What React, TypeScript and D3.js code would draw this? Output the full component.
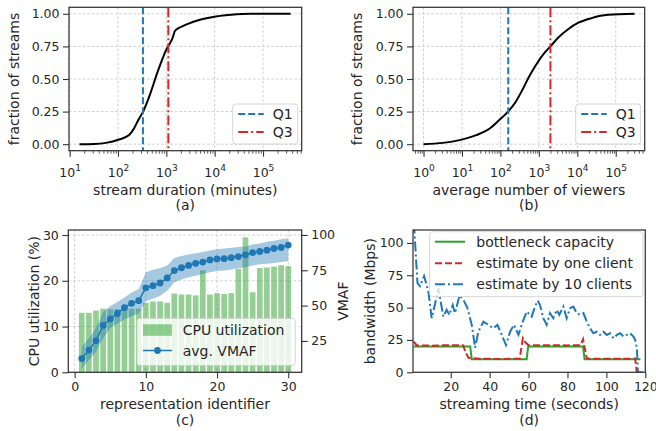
import React, { useEffect, useRef } from 'react';
import * as d3 from 'd3';

const FONT = '"DejaVu Sans", Verdana, sans-serif';
const INK = '#262626';
const SPINE = '#333333';
const GRID = '#c4c4c4';
const BLUE = '#1f77b4';
const RED = '#d62728';
const GREEN = '#2ca02c';

// ---------- (a) stream duration CDF ----------
const durationMinutes = [16, 32, 56, 105, 170, 214, 263, 331, 468, 646, 794, 955, 1122, 1349, 1514, 1950, 2884, 4571, 8710, 21900, 56200, 372000];
const durationFraction = [0, 0.002, 0.01, 0.036, 0.07, 0.12, 0.185, 0.25, 0.39, 0.545, 0.635, 0.71, 0.758, 0.815, 0.87, 0.897, 0.925, 0.951, 0.974, 0.992, 1.0, 1.0];
const durationQ1 = 328;
const durationQ3 = 1100;

// ---------- (b) average viewers CDF ----------
const viewerCounts = [1, 3.2, 8.7, 23.4, 52.5, 93, 158, 251, 372, 550, 832, 1230, 1995, 3311, 5888, 10700, 23400, 63100, 309000];
const viewerFraction = [0, 0.01, 0.031, 0.069, 0.12, 0.185, 0.25, 0.326, 0.416, 0.515, 0.605, 0.68, 0.75, 0.822, 0.884, 0.932, 0.967, 0.992, 1.0];
const viewersQ1 = 160;
const viewersQ3 = 2000;

const logMajorTicksA = [10, 100, 1000, 10000, 100000];
const logMajorTicksB = [1, 10, 100, 1000, 10000, 100000];
const fractionTicks = [0, 0.25, 0.5, 0.75, 1.0];

// ---------- (c) CPU utilization / VMAF ----------
const reprIds = [1, 2, 3, 4, 5, 6, 7, 8, 9, 10, 11, 12, 13, 14, 15, 16, 17, 18, 19, 20, 21, 22, 23, 24, 25, 26, 27, 28, 29, 30];
const cpuUtilization = [13.0, 13.0, 13.5, 13.9, 13.8, 13.8, 13.9, 13.9, 13.9, 15.2, 15.5, 15.5, 15.2, 17.2, 17.0, 17.0, 16.8, 22.3, 17.0, 17.3, 17.1, 17.3, 22.6, 29.5, 17.5, 22.8, 22.9, 23.1, 23.4, 23.2];
const vmafAvg = [12.5, 18.5, 25.2, 36.0, 40.6, 44.4, 48.5, 51.6, 53.5, 62.6, 64.1, 66.0, 69.6, 74.8, 76.8, 78.4, 79.9, 80.8, 82.3, 83.0, 83.2, 83.9, 84.7, 85.9, 87.5, 88.3, 89.2, 90.4, 91.1, 92.8];
const vmafLow = [5.3, 11.3, 17.3, 26.9, 34.1, 37.2, 40.1, 42.5, 44.4, 53.3, 54.9, 56.9, 60.5, 66.5, 68.4, 70.0, 71.2, 72.4, 73.6, 74.4, 74.8, 75.6, 76.5, 77.2, 78.4, 79.2, 79.6, 80.1, 80.8, 81.3];
const vmafHigh = [20.9, 26.9, 34.1, 45.4, 49.7, 52.6, 55.7, 59.3, 61.7, 73.6, 75.3, 76.5, 78.4, 83.7, 85.1, 86.1, 87.1, 88.0, 89.0, 89.9, 90.4, 90.9, 91.4, 91.9, 93.3, 94.0, 95.2, 95.9, 96.9, 97.6];
const cXTicks = [0, 10, 20, 30];
const cYTicks = [0, 10, 20, 30];
const cRightTicks = [25, 50, 75, 100];

// ---------- (d) bandwidth over time ----------
const capacityTime = [1, 30, 30.8, 59, 59.8, 88, 88.8, 117.5];
const capacityMbps = [20, 20, 10, 10, 20, 20, 10, 10];
const oneClientTime = [1, 2.5, 10, 20, 26.3, 27.8, 29.1, 35, 45, 55.4, 57.1, 58.5, 60, 70, 80, 86.8, 88, 89.9, 91, 100, 110, 114.8, 115.6, 118];
const oneClientMbps = [23.7, 20.8, 20.6, 21, 20.9, 15, 11.2, 10.5, 10.3, 10.5, 26.3, 23, 21, 21, 20.8, 21, 25.5, 11, 10.5, 10.5, 10.5, 10.6, 0, 0];
const tenClientsTime = [1.1, 2.9, 4.2, 6.3, 8.5, 10.2, 12.0, 13.7, 14.8, 16.2, 17.9, 19.3, 21.0, 22.2, 24.5, 26.5, 28.6, 30.8, 32.5, 34.2, 36.8, 39.3, 41.9, 44.0, 46.2, 48.4, 50.5, 52.5, 54.8, 57.0, 59.1, 61.6, 63.3, 64.7, 65.9, 67.6, 69.3, 71.0, 72.7, 74.5, 75.8, 77.9, 79.6, 81.3, 83.0, 84.8, 86.5, 88.2, 89.9, 91.6, 93.3, 95.0, 96.7, 98.5, 100.2, 101.9, 103.6, 105.4, 107.1, 108.8, 110.5, 112.2, 113.9, 114.8, 115.7, 116.2, 118.8];
const tenClientsMbps = [115, 69, 66.6, 74.4, 62.5, 41.8, 53.4, 65, 55, 43, 48.3, 44.4, 52, 45.7, 59.4, 56, 49.6, 36.7, 19, 31.4, 39.2, 36.7, 34.0, 36.7, 29, 21, 31.4, 36.7, 29, 39.2, 47, 43, 50.8, 55.3, 52, 41.8, 36.7, 45.7, 41.8, 48.3, 44.4, 50.8, 41.8, 49.6, 50.8, 45.7, 44.4, 45.7, 39.2, 34, 30.2, 31.4, 28.9, 31.4, 28.9, 30.2, 26.3, 28.9, 30.2, 27.6, 28.9, 30.2, 27.6, 25, 18.6, 0, 0];
const dXTicks = [20, 40, 60, 80, 100, 120];
const dYTicks = [0, 25, 50, 75, 100];

type Frame = { left: number; top: number; right: number; bottom: number };
const FA: Frame = { left: 69, top: 7.3, right: 301.7, bottom: 150.7 };
const FB: Frame = { left: 413, top: 7.3, right: 644.7, bottom: 150.7 };
const FC: Frame = { left: 68.3, top: 230, right: 301.7, bottom: 372.3 };
const FD: Frame = { left: 413, top: 230, right: 645.3, bottom: 372.3 };

const TICK = 6;
const PAD = 3.5;
const TICK_FS = 12.5;
const LABEL_FS = 14;
const LEG_FS = 14;

type Sel = d3.Selection<any, any, any, any>;

function styleAxis(a: Sel) {
  a.attr('font-family', FONT).attr('font-size', TICK_FS);
  a.select('.domain').remove();
  a.selectAll('.tick line').attr('stroke', SPINE).attr('stroke-width', 1.1);
  a.selectAll('.tick text').attr('fill', INK);
}

function addText(g: Sel, x: number, y: number, s: string, size: number, anchor = 'middle', rotate = false) {
  const t = g.append('text')
    .attr('font-family', FONT)
    .attr('font-size', size)
    .attr('fill', INK)
    .attr('text-anchor', anchor)
    .text(s);
  if (rotate) {
    t.attr('transform', `translate(${x},${y}) rotate(-90)`).attr('dy', '0.35em');
  } else {
    t.attr('x', x).attr('y', y);
  }
  return t;
}

function gridX(g: Sel, f: Frame, x: (v: number) => number, vals: number[]) {
  g.append('g').selectAll('line').data(vals).join('line')
    .attr('x1', (d: number) => x(d)).attr('x2', (d: number) => x(d))
    .attr('y1', f.top).attr('y2', f.bottom)
    .attr('stroke', GRID).attr('stroke-width', 0.8).attr('stroke-dasharray', '2.6,2');
}
function gridY(g: Sel, f: Frame, y: (v: number) => number, vals: number[]) {
  g.append('g').selectAll('line').data(vals).join('line')
    .attr('y1', (d: number) => y(d)).attr('y2', (d: number) => y(d))
    .attr('x1', f.left).attr('x2', f.right)
    .attr('stroke', GRID).attr('stroke-width', 0.8).attr('stroke-dasharray', '2.6,2');
}
function frameRect(g: Sel, f: Frame) {
  g.append('rect').attr('x', f.left).attr('y', f.top)
    .attr('width', f.right - f.left).attr('height', f.bottom - f.top)
    .attr('fill', 'none').attr('stroke', SPINE).attr('stroke-width', 1.25);
}
function legendBox(g: Sel, x0: number, y0: number, x1: number, y1: number) {
  g.append('rect').attr('x', x0).attr('y', y0).attr('width', x1 - x0).attr('height', y1 - y0)
    .attr('rx', 3).attr('fill', '#ffffff').attr('fill-opacity', 0.8)
    .attr('stroke', '#cccccc').attr('stroke-width', 0.8);
}

function logAxisBottom(g: Sel, f: Frame, x: d3.ScaleLogarithmic<number, number>, majors: number[]) {
  const [d0, d1] = x.domain();
  const minors: number[] = [];
  for (let e = Math.floor(Math.log10(d0)); e <= Math.ceil(Math.log10(d1)); e++) {
    for (let m = 2; m <= 9; m++) {
      const v = m * Math.pow(10, e);
      if (v >= d0 && v <= d1) minors.push(v);
    }
  }
  const gm = g.append('g').attr('transform', `translate(0,${f.bottom})`)
    .call(d3.axisBottom(x).tickValues(minors).tickSize(3).tickFormat(() => ''));
  styleAxis(gm);
  gm.selectAll('.tick line').attr('stroke-width', 0.8);
  const ga = g.append('g').attr('transform', `translate(0,${f.bottom})`)
    .call(d3.axisBottom(x).tickValues(majors).tickSize(TICK).tickFormat(() => ''));
  styleAxis(ga);
  ga.selectAll('.tick text').each(function (d: any) {
    const t = d3.select(this);
    t.text(null).attr('dy', null).attr('y', 26);
    t.append('tspan').text('10');
    t.append('tspan').attr('dy', -6).attr('font-size', TICK_FS * 0.72).text(String(Math.round(Math.log10(d))));
  });
}

function drawCdf(
  root: Sel, f: Frame, xDomain: [number, number], xs: number[], ys: number[],
  q1: number, q3: number, majors: number[], xlabel: string, sub: string, ylabelX: number,
) {
  const g = root.append('g');
  const x = d3.scaleLog().domain(xDomain).range([f.left, f.right]);
  const y = d3.scaleLinear().domain([-0.05, 1.05]).range([f.bottom, f.top]);
  gridX(g, f, x, majors.filter((v) => v >= xDomain[0] && v <= xDomain[1]));
  gridY(g, f, y, fractionTicks);

  const line = d3.line<number>().x((d, i) => x(xs[i])).y((d) => y(d)).curve(d3.curveMonotoneX);
  g.append('path').attr('d', line(ys)).attr('fill', 'none').attr('stroke', '#000').attr('stroke-width', 2);

  g.append('line').attr('x1', x(q1)).attr('x2', x(q1)).attr('y1', f.top).attr('y2', f.bottom)
    .attr('stroke', BLUE).attr('stroke-width', 2).attr('stroke-dasharray', '7,3');
  g.append('line').attr('x1', x(q3)).attr('x2', x(q3)).attr('y1', f.top).attr('y2', f.bottom)
    .attr('stroke', RED).attr('stroke-width', 2).attr('stroke-dasharray', '10,3,2,3');

  // legend
  const lx1 = f.right - 4;
  const lx0 = lx1 - 65;
  legendBox(g, lx0, f.bottom - 46.7, lx1, f.bottom - 6.7);
  const rows = [
    { label: 'Q1', color: BLUE, dash: '7,3', yy: f.bottom - 36.7 },
    { label: 'Q3', color: RED, dash: '10,3,2,3', yy: f.bottom - 18.7 },
  ];
  rows.forEach((r) => {
    g.append('line').attr('x1', lx0 + 5.5).attr('x2', lx0 + 31).attr('y1', r.yy).attr('y2', r.yy)
      .attr('stroke', r.color).attr('stroke-width', 2).attr('stroke-dasharray', r.dash);
    addText(g, lx0 + 40, r.yy, r.label, LEG_FS, 'start').attr('dy', '0.36em');
  });

  frameRect(g, f);
  logAxisBottom(g, f, x, majors);
  const ay = g.append('g').attr('transform', `translate(${f.left},0)`)
    .call(d3.axisLeft(y).tickValues(fractionTicks).tickSize(TICK).tickPadding(PAD).tickFormat(d3.format('.2f')));
  styleAxis(ay);

  const cx = (f.left + f.right) / 2;
  addText(g, cx, 195, xlabel, LABEL_FS);
  addText(g, cx, 209.5, sub, LABEL_FS);
  addText(g, ylabelX, (f.top + f.bottom) / 2, 'fraction of streams', LABEL_FS, 'middle', true);
}

function drawC(root: Sel, f: Frame) {
  const g = root.append('g');
  const x = d3.scaleLinear().domain([-0.89, 31.89]).range([f.left, f.right]);
  const y = d3.scaleLinear().domain([0, 31.1]).range([f.bottom, f.top]);
  const y2 = d3.scaleLinear().domain([2.8, 103.5]).range([f.bottom, f.top]);
  gridX(g, f, x, cXTicks);
  gridY(g, f, y, cYTicks);

  g.append('g').selectAll('rect').data(reprIds).join('rect')
    .attr('x', (d: number) => x(d - 0.4)).attr('width', (d: number) => x(d + 0.4) - x(d - 0.4))
    .attr('y', (d: number, i: number) => y(cpuUtilization[i]))
    .attr('height', (d: number, i: number) => y(0) - y(cpuUtilization[i]))
    .attr('fill', GREEN).attr('fill-opacity', 0.5);

  const area = d3.area<number>().x((d) => x(d)).y0((d, i) => y2(vmafLow[i])).y1((d, i) => y2(vmafHigh[i]));
  g.append('path').attr('d', area(reprIds)).attr('fill', BLUE).attr('fill-opacity', 0.4);
  const line = d3.line<number>().x((d) => x(d)).y((d, i) => y2(vmafAvg[i]));
  g.append('path').attr('d', line(reprIds)).attr('fill', 'none').attr('stroke', BLUE).attr('stroke-width', 1.5);
  g.append('g').selectAll('circle').data(reprIds).join('circle')
    .attr('cx', (d: number) => x(d)).attr('cy', (d: number, i: number) => y2(vmafAvg[i]))
    .attr('r', 3.4).attr('fill', BLUE);

  // legend
  legendBox(g, 137, 318.3, 295.3, 365.5);
  g.append('rect').attr('x', 143).attr('y', 324.3).attr('width', 29).attr('height', 11.5)
    .attr('fill', GREEN).attr('fill-opacity', 0.5);
  addText(g, 182.7, 330, 'CPU utilization', LEG_FS, 'start').attr('dy', '0.36em');
  g.append('line').attr('x1', 143).attr('x2', 172).attr('y1', 350.5).attr('y2', 350.5)
    .attr('stroke', BLUE).attr('stroke-width', 1.5);
  g.append('circle').attr('cx', 157.5).attr('cy', 350.5).attr('r', 3.4).attr('fill', BLUE);
  addText(g, 182.7, 350.5, 'avg. VMAF', LEG_FS, 'start').attr('dy', '0.36em');

  frameRect(g, f);
  const ax = g.append('g').attr('transform', `translate(0,${f.bottom})`)
    .call(d3.axisBottom(x).tickValues(cXTicks).tickSize(TICK).tickPadding(PAD));
  styleAxis(ax);
  const ay = g.append('g').attr('transform', `translate(${f.left},0)`)
    .call(d3.axisLeft(y).tickValues(cYTicks).tickSize(TICK).tickPadding(PAD));
  styleAxis(ay);
  const ar = g.append('g').attr('transform', `translate(${f.right},0)`)
    .call(d3.axisRight(y2).tickValues(cRightTicks).tickSize(TICK).tickPadding(PAD));
  styleAxis(ar);

  const cx = (f.left + f.right) / 2;
  addText(g, cx, 408.5, 'representation identifier', LABEL_FS);
  addText(g, cx, 424.5, '(c)', LABEL_FS);
  addText(g, 34, (f.top + f.bottom) / 2, 'CPU utilization (%)', LABEL_FS, 'middle', true);
  addText(g, 343, (f.top + f.bottom) / 2, 'VMAF', LABEL_FS, 'middle', true);
}

function drawD(root: Sel, f: Frame) {
  const g = root.append('g');
  const x = d3.scaleLinear().domain([0.6, 120]).range([f.left, f.right]);
  const y = d3.scaleLinear().domain([0, 110]).range([f.bottom, f.top]);

  const defs = root.append('defs');
  defs.append('clipPath').attr('id', 'clipD').append('rect')
    .attr('x', f.left).attr('y', f.top).attr('width', f.right - f.left).attr('height', f.bottom - f.top);
  const pg = g.append('g').attr('clip-path', 'url(#clipD)');

  const mk = (ts: number[]) => d3.line<number>().x((d, i) => x(ts[i])).y((d) => y(d));
  pg.append('path').attr('d', mk(capacityTime)(capacityMbps)).attr('fill', 'none')
    .attr('stroke', GREEN).attr('stroke-width', 2);
  pg.append('path').attr('d', mk(oneClientTime)(oneClientMbps)).attr('fill', 'none')
    .attr('stroke', RED).attr('stroke-width', 2).attr('stroke-dasharray', '7,3');
  pg.append('path').attr('d', mk(tenClientsTime)(tenClientsMbps)).attr('fill', 'none')
    .attr('stroke', BLUE).attr('stroke-width', 2).attr('stroke-dasharray', '10,3,2,3');

  legendBox(g, 429.7, 231.7, 643, 296.7);
  const rows = [
    { label: 'bottleneck capacity', color: GREEN, dash: null as string | null, yy: 241.7 },
    { label: 'estimate by one client', color: RED, dash: '7,3', yy: 263.3 },
    { label: 'estimate by 10 clients', color: BLUE, dash: '10,3,2,3', yy: 284.3 },
  ];
  rows.forEach((r) => {
    const l = g.append('line').attr('x1', 435).attr('x2', 465).attr('y1', r.yy).attr('y2', r.yy)
      .attr('stroke', r.color).attr('stroke-width', 2);
    if (r.dash) l.attr('stroke-dasharray', r.dash);
    addText(g, 476.3, r.yy, r.label, LEG_FS, 'start').attr('dy', '0.36em');
  });

  frameRect(g, f);
  const ax = g.append('g').attr('transform', `translate(0,${f.bottom})`)
    .call(d3.axisBottom(x).tickValues(dXTicks).tickSize(TICK).tickPadding(PAD));
  styleAxis(ax);
  const ay = g.append('g').attr('transform', `translate(${f.left},0)`)
    .call(d3.axisLeft(y).tickValues(dYTicks).tickSize(TICK).tickPadding(PAD));
  styleAxis(ay);

  const cx = (f.left + f.right) / 2;
  addText(g, cx, 408.5, 'streaming time (seconds)', LABEL_FS);
  addText(g, cx, 424.5, '(d)', LABEL_FS);
  addText(g, 370, (f.top + f.bottom) / 2, 'bandwidth (Mbps)', LABEL_FS, 'middle', true);
}

export default function App() {
  const ref = useRef<SVGSVGElement>(null);
  useEffect(() => {
    if (!ref.current) return;
    const svg = d3.select(ref.current);
    svg.selectAll('*').remove();
    drawCdf(svg, FA, [9.7, 631000], durationMinutes, durationFraction, durationQ1, durationQ3,
      logMajorTicksA, 'stream duration (minutes)', '(a)', 14.5);
    drawCdf(svg, FB, [0.532, 567000], viewerCounts, viewerFraction, viewersQ1, viewersQ3,
      logMajorTicksB, 'average number of viewers', '(b)', 357);
    drawC(svg, FC);
    drawD(svg, FD);
  }, []);
  return (
    <svg
      ref={ref}
      width={656}
      height={431}
      style={{ position: 'absolute', left: 0, top: 0, background: '#ffffff' }}
    />
  );
}
